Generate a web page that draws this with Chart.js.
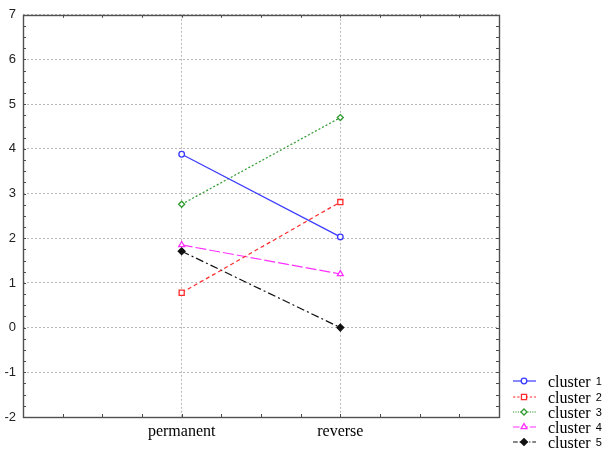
<!DOCTYPE html>
<html>
<head>
<meta charset="utf-8">
<script src="https://cdn.jsdelivr.net/npm/chart.js@4/dist/chart.umd.min.js"></script>
<style>
  html, body { margin: 0; padding: 0; background: #fff; }
  #wrap { width: 611px; height: 454px; position: relative; }
</style>
</head>
<body>
<div id="wrap"><canvas id="c"></canvas></div>
<script>
'use strict';

// ── data ────────────────────────────────────────────────────────────────────

const categories = ['permanent', 'reverse'];
const seriesNames = ['cluster 1', 'cluster 2', 'cluster 3', 'cluster 4', 'cluster 5'];
const cluster1 = [3.88, 2.03];
const cluster2 = [0.78, 2.81];
const cluster3 = [2.76, 4.70];
const cluster4 = [1.85, 1.20];
const cluster5 = [1.71, 0.00];
const yMin = -2, yMax = 7;

// ── styles ──────────────────────────────────────────────────────────────────

const styles = [
  { color: '#3a3aff', dash: [],            point: 'circle',   r: 2.8, fill: '#fff' },
  { color: '#ff2a2a', dash: [4, 3],        point: 'rect',     r: 3.6, fill: '#fff' },
  { color: '#2f9a2f', dash: [2, 2],        point: 'rectRot',  r: 3,   fill: '#fff' },
  { color: '#ff30ff', dash: [11, 3],       point: 'triangle', r: 3.4, fill: '#fff' },
  { color: '#111111', dash: [8, 3, 2, 3],  point: 'rectRot',  r: 3.4, fill: '#111' },
];

const allSeries = [cluster1, cluster2, cluster3, cluster4, cluster5];

const datasets = allSeries.map((vals, i) => ({
  label: seriesNames[i],
  data: vals.map((v, j) => ({ x: j + 1, y: v })),
  borderColor: styles[i].color,
  borderDash: styles[i].dash,
  borderWidth: 1.2,
  pointStyle: styles[i].point,
  pointRadius: styles[i].r,
  pointBorderWidth: 1.3,
  pointBorderColor: styles[i].color,
  pointBackgroundColor: styles[i].fill,
  tension: 0,
}));

// ── plugins ─────────────────────────────────────────────────────────────────

const frame = {
  id: 'frame',
  afterDraw(chart) {
    const { ctx, chartArea: a, scales: { x, y } } = chart;
    ctx.save();
    ctx.strokeStyle = '#4a4a4a';
    ctx.lineWidth = 1;
    // inward minor ticks
    ctx.beginPath();
    for (let v = yMin; v <= yMax + 1e-9; v += 0.25) {
      const py = Math.round(y.getPixelForValue(v)) + 0.5;
      ctx.moveTo(a.left, py); ctx.lineTo(a.left + 3, py);
      ctx.moveTo(a.right, py); ctx.lineTo(a.right - 3, py);
    }
    for (let v = 0; v <= 3 + 1e-9; v += 0.25) {
      const px = Math.round(x.getPixelForValue(v)) + 0.5;
      ctx.moveTo(px, a.bottom); ctx.lineTo(px, a.bottom - 3);
      ctx.moveTo(px, a.top); ctx.lineTo(px, a.top + 3);
    }
    ctx.stroke();
    // box
    ctx.lineWidth = 1.4;
    ctx.strokeStyle = '#505050';
    ctx.strokeRect(Math.round(a.left) + 0.5, Math.round(a.top) + 0.5,
      Math.round(a.right - a.left), Math.round(a.bottom - a.top));
    ctx.restore();
  },
};

const legendBox = {
  id: 'legendBox',
  afterDraw(chart) {
    const { ctx } = chart;
    const rows = [381, 397, 412, 427, 442];
    ctx.save();
    chart.data.datasets.forEach((ds, i) => {
      const yy = rows[i];
      ctx.strokeStyle = ds.borderColor;
      ctx.lineWidth = 1.2;
      ctx.setLineDash(ds.borderDash.length ? ds.borderDash.map(d => Math.max(1, d * 0.6)) : []);
      ctx.beginPath();
      ctx.moveTo(513, yy); ctx.lineTo(536, yy);
      ctx.stroke();
      ctx.setLineDash([]);
      ctx.fillStyle = ds.pointBackgroundColor;
      ctx.strokeStyle = ds.pointBorderColor;
      ctx.lineWidth = 1.3;
      Chart.helpers.drawPoint(ctx, { pointStyle: ds.pointStyle, radius: ds.pointRadius, borderWidth: 1.3 }, 524, yy);
      const [word, num] = ds.label.split(' ');
      ctx.fillStyle = '#000';
      ctx.textBaseline = 'middle';
      ctx.textAlign = 'left';
      ctx.font = '16px "Liberation Serif", serif';
      ctx.fillText(word, 548, yy + 2);
      const w = ctx.measureText(word).width;
      ctx.font = '11px "Liberation Sans", Arial, sans-serif';
      ctx.fillText(num, 548 + w + 5, yy + 0.5);
    });
    ctx.restore();
  },
};

// ── chart ───────────────────────────────────────────────────────────────────

new Chart(document.getElementById('c'), {
  type: 'line',
  data: { datasets },
  plugins: [frame, legendBox],
  options: {
    responsive: true,
    maintainAspectRatio: false,
    animation: false,
    layout: { padding: { top: 11, right: 112, left: 0, bottom: 0 } },
    plugins: { legend: { display: false }, tooltip: { enabled: false } },
    scales: {
      x: {
        type: 'linear', min: 0, max: 3,
        afterFit: s => { s.height = 37; },
        ticks: {
          stepSize: 1, padding: 5, color: '#000',
          font: { family: '"Liberation Serif", serif', size: 16 },
          callback: v => categories[v - 1] || '',
        },
        grid: { color: '#b8b8b8', drawTicks: false, lineWidth: 1 },
        border: { display: false, dash: [2, 2] },
      },
      y: {
        min: yMin, max: yMax,
        afterFit: s => { s.width = 23; },
        ticks: {
          stepSize: 1, padding: 7, color: '#222',
          font: { family: '"Liberation Sans", Arial, sans-serif', size: 13 },
        },
        grid: { color: '#b8b8b8', drawTicks: false, lineWidth: 1 },
        border: { display: false, dash: [2, 2] },
      },
    },
  },
});
</script>
</body>
</html>
